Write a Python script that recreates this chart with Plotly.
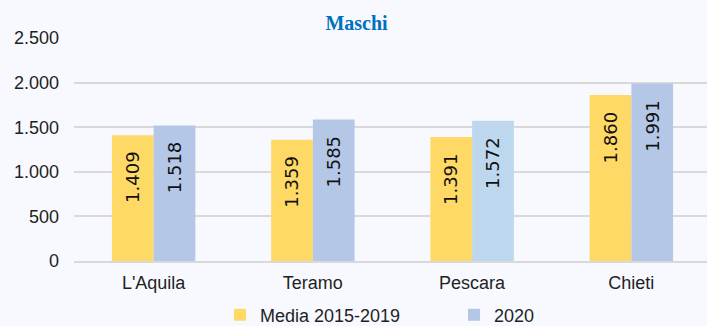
import plotly.graph_objects as go

# Province categories and the two series
province = ["L'Aquila", "Teramo", "Pescara", "Chieti"]
media_2015_2019 = [1409, 1359, 1391, 1860]
anno_2020 = [1518, 1585, 1572, 1991]

# per-bar colours (Pescara 2020 shown in a lighter blue)
col_media = ["#FFD966"] * 4
col_2020 = ["#B4C7E7", "#B4C7E7", "#BDD7EE", "#B4C7E7"]

y_ticks = [0, 500, 1000, 1500, 2000, 2500]


def fmt_it(v):
    return f"{v:,}".replace(",", ".")


BG = "#F7F9FE"
TXT = "#1F1F1F"

fig = go.Figure()
fig.add_trace(go.Bar(
    name="Media 2015-2019", x=province, y=media_2015_2019,
    marker=dict(color=col_media, line=dict(width=0)),
))
fig.add_trace(go.Bar(
    name="2020", x=province, y=anno_2020,
    marker=dict(color=col_2020, line=dict(width=0)),
))

# value labels, vertical, just under the top of each bar
annotations = []
for series, shift in ((media_2015_2019, -21), (anno_2020, 21)):
    for cat, v in zip(province, series):
        annotations.append(dict(
            x=cat, y=v, xref="x", yref="y", text=fmt_it(v),
            showarrow=False, textangle=-90, xanchor="center", yanchor="top",
            xshift=shift, yshift=-14,
            font=dict(family="DejaVu Sans", size=18, color="#111111"),
        ))

PLOT_H = 326 - 38 - 65

fig.update_layout(
    width=707, height=326,
    margin=dict(l=74, r=0, t=38, b=65, autoexpand=False),
    paper_bgcolor=BG, plot_bgcolor=BG,
    separators=",.",
    barmode="group", bargap=0.476, bargroupgap=0,
    font=dict(family="Liberation Sans, Arial, sans-serif", size=18, color=TXT),
    title=dict(
        text="<b>Maschi</b>", x=356.5 / 707, xanchor="center",
        y=1 - 23 / 326, yanchor="middle",
        font=dict(family="Liberation Serif, Times New Roman, serif", size=20, color="#0070C0"),
    ),
    xaxis=dict(
        range=[-0.5, 3.475], showgrid=False, showline=True,
        linecolor="#D9D9D9", linewidth=2, ticks="", automargin=False,
        ticklabelstandoff=4, tickfont=dict(size=18, color=TXT),
    ),
    yaxis=dict(
        range=[0, 2500], tickvals=y_ticks, tickformat=",d",
        showgrid=True, gridcolor="#D9D9D9", gridwidth=2,
        zeroline=False, showline=False, ticks="", automargin=False,
        ticklabelstandoff=14, tickfont=dict(size=18, color=TXT),
    ),
    legend=dict(
        orientation="h", x=(220 - 74) / 633, xanchor="left",
        y=-(315 - 261) / PLOT_H, yanchor="middle", entrywidth=189,
        font=dict(size=18, color=TXT), bgcolor="rgba(0,0,0,0)",
        traceorder="normal",
    ),
    annotations=annotations,
)

fig.write_html("out.html")
